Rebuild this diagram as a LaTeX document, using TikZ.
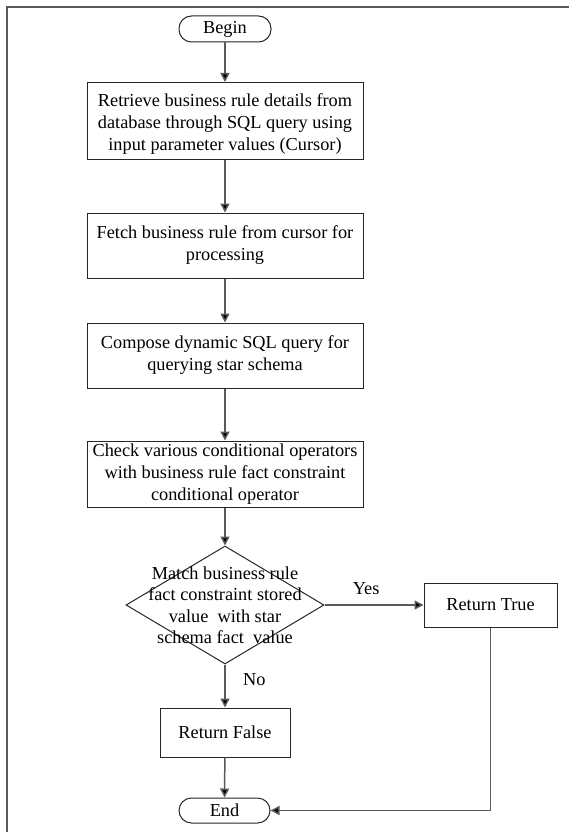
\documentclass[tikz,border=0pt]{standalone}
\usepackage{fontspec}
\setmainfont{Liberation Serif}
\usetikzlibrary{arrows.meta,shapes.geometric}
\begin{document}
\begin{tikzpicture}[x=1pt,y=-1pt,
  box/.style={draw=black!85,line width=1pt,inner sep=0pt,align=center,minimum width=276pt,font=\fontsize{18.3}{22}\selectfont},
  txt/.style={inner sep=0pt,align=center,font=\fontsize{18.3}{22}\selectfont},
  term/.style={draw=black!85,line width=1pt,inner sep=0pt,rounded corners=12.5pt,font=\fontsize{18.3}{22}\selectfont},
  conn/.style={draw=black!65,line width=1.5pt,-{Triangle[length=9pt,width=9pt,fill=black]}},
  lbl/.style={font=\fontsize{18.3}{20}\selectfont}]
\useasboundingbox (0,0) rectangle (569,832);
\draw[black!65,line width=2pt] (7,834) -- (7,7) -- (571,7);
\node[term,minimum width=92pt,minimum height=26pt] (begin) at (225,29) {Begin};
\node[box,minimum height=77pt] (b1) at (225,121) {};
\node[txt,yshift=-3pt] (b1t) at (b1.center) {Retrieve business rule details from\\database through SQL query using\\input parameter values (Cursor)};
\node[box,minimum height=65pt] (b2) at (225,245.5) {Fetch business rule from cursor for\\processing};
\node[box,minimum height=65pt] (b3) at (225,355.5) {Compose dynamic SQL query for\\querying star schema};
\node[box,minimum height=66pt] (b4) at (225,474) {Check various conditional operators\\with business rule fact constraint\\conditional operator};
\node[draw=black!85,line width=1pt,shape=diamond,inner sep=0pt,minimum width=198pt,minimum height=118pt] (dec) at (225,605) {};
\node[align=center,font=\fontsize{18.3}{21.5}\selectfont] (dect) at (dec.center) {Match business rule\\fact constraint stored\\value\ \ with star\\schema fact\ \ value};
\node[box,minimum width=133pt,minimum height=44pt] (rt) at (490.5,605) {Return True};
\node[box,minimum width=130pt,minimum height=49pt] (rf) at (225,732.5) {Return False};
\node[term,minimum width=91pt,minimum height=25pt] (end) at (224.5,810.5) {End};
\coordinate (corner) at (rt.south |- end.east);
\draw[conn] (begin) -- (b1);
\draw[conn] (b1) -- (b2);
\draw[conn] (b2) -- (b3);
\draw[conn] (b3) -- (b4);
\draw[conn] (b4) -- (dec.north);
\draw[conn] (dec.east) -- node[lbl,above=6pt,pos=0.42] (yes) {Yes} (rt.west);
\draw[conn] (dec.south) -- node[lbl,right=14pt,pos=0.35] (no) {No} (rf.north);
\draw[conn] (rf) -- (end);
\draw[conn] (rt.south) -- (corner) -- (end.east);
\end{tikzpicture}
\end{document}
